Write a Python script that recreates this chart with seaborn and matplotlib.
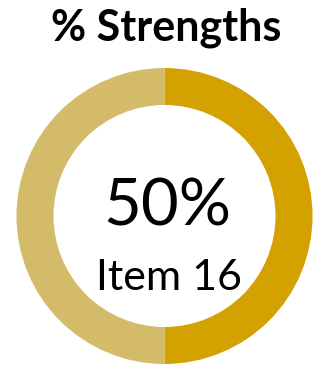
import matplotlib
matplotlib.use("Agg")
import matplotlib.pyplot as plt
import seaborn as sns

# data
labels = ["Strengths", "Other"]
values = [50, 50]
colors = ["#D3A200", "#D4BB6A"]
title = "% Strengths"
center_value = "50%"
center_label = "Item 16"

sns.set_theme(style="white")
plt.rcParams['font.family'] = ['Lato', 'DejaVu Sans']

W, H = 318, 367
fig = plt.figure(figsize=(W / 100, H / 100), dpi=100)
fig.patch.set_facecolor("white")

# donut placement in pixels
cx, cy, r = 164.5, 216, 148
ax = fig.add_axes([(cx - r) / W, (H - cy - r) / H, 2 * r / W, 2 * r / H])
ax.pie(values, colors=colors, startangle=90, counterclock=False, radius=1,
       wedgeprops=dict(width=0.25, edgecolor="none"))
ax.set_xlim(-1, 1)
ax.set_ylim(-1, 1)
ax.set_aspect("equal")
ax.axis("off")

ax.text(0.02, 0.06, center_value, ha="center", va="center", fontsize=47, color="black")
ax.text(0.03, -0.42, center_label, ha="center", va="center", fontsize=31, color="black")

fig.text(166 / W, 1 - 28 / H, title, ha="center", va="center",
         fontsize=31, fontweight="bold", color="black")

fig.savefig("out.png", dpi=100, facecolor="white")
